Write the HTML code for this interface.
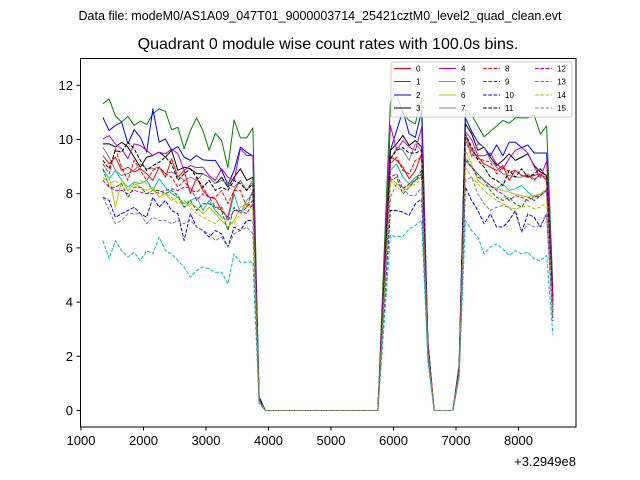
<!DOCTYPE html>
<html><head><meta charset="utf-8"><style>
html,body{margin:0;padding:0;background:#fff;}
svg{display:block;font-family:"Liberation Sans",sans-serif;}
</style></head><body>
<svg id="chart" width="640" height="480" viewBox="0 0 640 480" xmlns="http://www.w3.org/2000/svg">
<rect width="640" height="480" fill="#fff"/>
<text x="320" y="20" font-size="12.5" text-anchor="middle">Data file: modeM0/AS1A09_047T01_9000003714_25421cztM0_level2_quad_clean.evt</text>
<text x="328" y="49" font-size="16" text-anchor="middle">Quadrant 0 module wise count rates with 100.0s bins.</text>
<g id="plot"></g>
<rect x="80.5" y="58.5" width="495.5" height="368.5" fill="none" stroke="#000" stroke-width="1"/>
<g id="axes"></g>
<g id="legend"></g>
<text x="576" y="466" font-size="13" text-anchor="end">+3.2949e8</text>
</svg>
<script>
const times=[1350,1450,1550,1650,1750,1850,1950,2050,2150,2250,2350,2450,2550,2650,2750,2850,2950,3050,3150,3250,3350,3450,3550,3650,3750,3850,3950,4050,4150,4250,4350,4450,4550,4650,4750,4850,4950,5050,5150,5250,5350,5450,5550,5650,5750,5850,5950,6050,6150,6250,6350,6450,6550,6650,6750,6850,6950,7050,7150,7250,7350,7450,7550,7650,7750,7850,7950,8050,8150,8250,8350,8450,8550];
const xTicks=[1000,2000,3000,4000,5000,6000,7000,8000];
const yTicks=[0,2,4,6,8,10,12];
const labels=["0","1","2","3","4","5","6","7","8","9","10","11","12","13","14","15"];
const colors=["#ff0000","#008000","#0000ff","#000000","#bf00bf","#00bfbf","#bfbf00","#808080","#ff0000","#008000","#0000ff","#000000","#bf00bf","#00bfbf","#bfbf00","#808080"];
const s0=[9.41,9.1,9.35,8.86,8.98,8.8,8.92,8.74,8.49,8.98,8.61,9.29,8.61,8.86,8.0,8.61,8.12,7.87,7.81,7.38,7.13,8.12,8.49,8.12,8.49,0.4,0,0,0,0,0,0,0,0,0,0,0,0,0,0,0,0,0,0,0,4.7,9.35,9.23,8.98,8.55,8.86,9.47,2.3,0,0,0,0,1.5,10.2,9.6,9.35,9.1,8.98,8.86,9.04,8.49,8.86,8.67,8.61,8.67,8.73,8.49,3.9];
const s1=[11.32,11.5,10.88,10.64,10.85,10.52,10.68,10.55,10.95,11.13,11.04,10.36,10.45,9.66,10.33,10.8,10.33,9.6,10.23,9.96,8.96,10.72,10.06,10.06,10.43,0.5,0,0,0,0,0,0,0,0,0,0,0,0,0,0,0,0,0,0,0,5.8,11.38,11.69,10.95,10.7,10.58,11.56,2.6,0,0,0,0,1.7,11.1,10.9,10.5,10.1,10.3,10.5,10.7,10.6,10.8,10.8,10.8,10.9,10.2,10.5,4.5];
const s2=[10.82,10.33,10.52,10.64,9.84,10.36,10.08,9.53,11.13,9.9,10.02,9.6,9.74,9.35,9.23,9.41,9.25,9.23,9.23,8.86,8.34,8.86,9.72,9.53,9.4,0.5,0,0,0,0,0,0,0,0,0,0,0,0,0,0,0,0,0,0,0,4.8,9.6,10.33,11.07,10.21,10.08,11.07,2.5,0,0,0,0,1.6,10.8,10.3,9.9,9.7,9.4,9.8,9.4,9.9,9.9,9.7,9.8,9.5,9.5,9.5,4.2];
const s3=[9.84,9.84,9.72,9.9,9.72,9.35,8.98,9.35,9.41,9.53,9.35,9.6,8.86,8.98,8.92,8.74,8.74,8.61,8.37,8.61,8.24,8.61,8.92,8.49,8.61,0.4,0,0,0,0,0,0,0,0,0,0,0,0,0,0,0,0,0,0,0,4.8,9.6,9.84,10.15,9.78,9.96,9.72,2.4,0,0,0,0,1.6,10.58,10.21,9.6,9.72,9.35,9.04,9.23,9.47,9.23,9.35,9.47,9.04,8.8,8.67,4.1];
const s4=[10.02,10.14,9.84,9.66,9.29,9.84,9.78,9.6,9.41,9.53,9.47,9.66,9.47,8.86,9.04,8.96,8.98,8.67,8.49,8.92,8.61,8.49,9.66,9.41,9.41,0.4,0,0,0,0,0,0,0,0,0,0,0,0,0,0,0,0,0,0,0,5.2,10.52,9.6,9.96,9.72,9.6,10.45,2.5,0,0,0,0,1.6,10.3,10.0,9.4,9.4,9.5,9.1,8.9,9.3,9.6,9.7,9.5,9.0,8.6,9.2,4.3];
const s5=[8.92,8.55,8.86,8.49,8.24,8.43,8.37,8.49,8.12,8.55,8.24,8.0,7.87,7.63,7.75,7.87,7.38,7.75,7.38,7.13,7.01,8.0,7.26,7.75,8.0,0.4,0,0,0,0,0,0,0,0,0,0,0,0,0,0,0,0,0,0,0,4.4,8.86,9.1,8.61,8.36,8.61,8.73,2.2,0,0,0,0,1.4,9.23,8.98,8.73,8.49,8.3,8.18,8.36,8.12,8.18,8.3,8.06,7.87,7.99,8.12,3.7];
const s6=[8.49,8.61,7.5,8.49,8.12,8.37,8.24,8.12,8.24,7.87,8.0,7.75,7.87,7.5,7.63,7.5,7.26,7.5,7.26,7.01,6.77,7.01,7.5,7.63,7.5,0.35,0,0,0,0,0,0,0,0,0,0,0,0,0,0,0,0,0,0,0,4.3,8.61,8.36,8.24,8.3,8.49,8.61,2.2,0,0,0,0,1.4,9.6,9.1,8.49,8.3,8.24,8.18,8.12,8.06,7.99,7.93,7.87,7.93,7.99,8.18,3.7];
const s7=[9.72,9.35,8.86,8.67,8.74,8.86,9.1,8.92,8.92,8.98,8.74,8.8,8.67,8.49,8.61,8.49,8.74,8.61,8.37,8.49,8.37,8.24,8.49,8.12,8.49,0.4,0,0,0,0,0,0,0,0,0,0,0,0,0,0,0,0,0,0,0,4.6,9.23,9.72,9.6,9.23,9.84,9.6,2.4,0,0,0,0,1.5,10.2,9.35,9.84,9.72,9.23,8.98,8.73,8.67,8.61,8.61,8.73,8.55,8.67,8.61,3.9];
const s8=[9.1,8.74,9.66,8.98,8.49,9.23,8.86,8.49,8.86,8.98,8.74,8.61,8.24,8.49,8.12,8.06,8.24,7.87,7.87,8.12,7.63,8.12,8.12,7.5,8.12,0.4,0,0,0,0,0,0,0,0,0,0,0,0,0,0,0,0,0,0,0,4.5,9.1,9.35,8.86,8.73,9.23,9.35,2.3,0,0,0,0,1.5,9.96,9.47,9.29,9.23,9.16,8.73,8.98,8.8,8.86,8.67,8.67,8.49,8.73,8.55,3.9];
const s9=[8.92,8.24,8.24,8.37,7.87,8.24,8.24,8.0,8.12,8.12,8.0,8.12,7.93,7.5,7.75,7.38,7.63,7.63,7.5,7.38,6.64,7.5,7.26,7.5,7.75,0.35,0,0,0,0,0,0,0,0,0,0,0,0,0,0,0,0,0,0,0,4.2,8.49,8.61,7.99,8.24,8.49,8.86,2.2,0,0,0,0,1.4,9.35,8.98,8.73,8.49,8.12,7.87,7.75,7.87,7.63,7.5,7.87,7.75,7.93,8.12,3.6];
const s10=[7.87,7.75,7.13,7.26,7.38,7.5,7.26,7.13,7.87,7.5,7.75,7.38,7.26,6.27,7.26,6.77,6.64,6.4,6.64,6.52,6.03,6.77,6.64,7.01,7.01,0.3,0,0,0,0,0,0,0,0,0,0,0,0,0,0,0,0,0,0,0,3.7,7.38,7.38,7.32,7.2,7.63,7.81,2.0,0,0,0,0,1.3,8.24,7.75,7.38,6.89,7.26,6.77,6.77,7.01,7.38,6.58,7.26,7.13,6.77,7.26,3.3];
const s11=[9.23,8.92,9.6,9.53,9.9,9.66,9.23,8.86,9.04,9.16,9.35,9.1,8.49,8.74,8.92,8.61,8.24,8.49,8.12,8.24,8.12,8.49,8.37,8.12,8.37,0.4,0,0,0,0,0,0,0,0,0,0,0,0,0,0,0,0,0,0,0,4.7,9.3,9.6,9.7,9.5,9.5,9.6,2.4,0,0,0,0,1.5,10.2,9.72,9.23,8.98,8.61,8.49,8.3,8.86,8.61,8.92,8.61,8.73,8.92,8.61,3.9];
const s12=[8.49,8.24,8.12,8.12,8.0,8.12,8.06,8.0,8.0,8.06,8.12,8.18,8.12,8.24,8.24,7.75,8.0,7.87,7.5,7.5,7.01,7.38,7.38,7.26,7.63,0.35,0,0,0,0,0,0,0,0,0,0,0,0,0,0,0,0,0,0,0,4.3,8.61,8.73,8.18,8.36,8.49,8.73,2.2,0,0,0,0,1.4,9.23,8.98,8.61,8.49,8.3,8.12,7.99,7.75,7.93,7.87,7.75,7.87,7.93,8.12,3.7];
const s13=[6.27,5.6,6.27,5.9,5.66,5.84,5.53,5.9,5.78,6.4,5.9,5.78,5.53,5.29,4.92,5.17,5.29,5.23,5.1,5.1,4.67,5.78,5.47,5.47,5.47,0.25,0,0,0,0,0,0,0,0,0,0,0,0,0,0,0,0,0,0,0,3.2,6.46,6.42,6.42,6.7,6.83,7.01,1.8,0,0,0,0,1.2,7.01,6.64,6.4,5.78,6.03,6.15,5.96,5.72,5.9,5.78,5.84,5.6,5.53,5.72,2.8];
const s14=[8.61,8.37,8.49,8.24,8.12,8.24,8.49,8.37,8.12,8.0,8.0,7.87,7.63,7.75,7.5,7.26,7.13,7.01,6.89,7.13,7.01,6.89,7.26,7.63,7.38,0.35,0,0,0,0,0,0,0,0,0,0,0,0,0,0,0,0,0,0,0,4.2,8.49,8.24,8.12,8.24,8.36,8.49,2.2,0,0,0,0,1.4,8.98,8.61,8.36,8.12,7.93,7.75,7.63,7.5,7.44,7.5,7.56,7.44,7.5,7.69,3.5];
const s15=[7.87,7.38,6.89,7.01,7.26,7.26,7.26,6.89,7.13,7.01,7.01,6.89,7.01,6.89,7.01,6.77,6.64,6.52,6.27,6.4,6.03,6.52,6.64,6.77,6.52,0.3,0,0,0,0,0,0,0,0,0,0,0,0,0,0,0,0,0,0,0,3.9,7.87,8.36,8.24,7.93,7.93,8.24,2.1,0,0,0,0,1.3,8.49,8.61,7.99,7.63,7.38,7.5,7.56,7.5,7.26,6.58,6.89,6.77,6.83,7.26,3.4];
const series=[s0,s1,s2,s3,s4,s5,s6,s7,s8,s9,s10,s11,s12,s13,s14,s15];

const NS="http://www.w3.org/2000/svg";
function xScale(t){return 81+(t-1000)*0.0625;}
function yScale(v){return 410.5-v*27.1;}
function mk(tag,attrs,parent){const e=document.createElementNS(NS,tag);for(const k in attrs)e.setAttribute(k,attrs[k]);parent.appendChild(e);return e;}

const plot=document.getElementById('plot');
series.forEach((vals,i)=>{
  const pts=vals.map((v,j)=>xScale(times[j]).toFixed(2)+","+yScale(v).toFixed(2)).join(" ");
  const pl=mk('polyline',{points:pts,fill:'none',stroke:colors[i],'stroke-width':1,'stroke-linejoin':'round'},plot);
  if(i>=8)pl.setAttribute('stroke-dasharray','3.7,1.6');
  
  
});

const axes=document.getElementById('axes');
xTicks.forEach(t=>{
  const x=xScale(t);
  const ln=mk('line',{x1:x,x2:x,y1:427,y2:430.5,stroke:'#000','stroke-width':1},axes);
  
  
  const tx=mk('text',{x:x,y:445,'font-size':13,'text-anchor':'middle'},axes);
  tx.textContent=t;
  
  
});
yTicks.forEach(v=>{
  const y=yScale(v);
  const ln=mk('line',{x1:76.5,x2:80,y1:y,y2:y,stroke:'#000','stroke-width':1},axes);
  
  
  const tx=mk('text',{x:73,y:y+4.5,'font-size':13,'text-anchor':'end'},axes);
  tx.textContent=v;
  
  
});

const leg=document.getElementById('legend');
const box=mk('rect',{x:391,y:62,width:181,height:55,rx:2,fill:'#fff','fill-opacity':0.8,stroke:'#ccc','stroke-width':1},leg);


const colX=[394,439,483,535];
const rowY=[68.5,81.5,95,108];
labels.forEach((lab,i)=>{
  const c=Math.floor(i/4),r=i%4;
  const g=mk('g',{},leg);
  
  
  const ln=mk('line',{x1:colX[c],x2:colX[c]+17,y1:rowY[r],y2:rowY[r],stroke:colors[i],'stroke-width':1},g);
  if(i>=8)ln.setAttribute('stroke-dasharray','3.7,1.6');
  const tx=mk('text',{x:colX[c]+22,y:rowY[r]+3,'font-size':8},g);
  tx.textContent=lab;
});
</script>
</body></html>
